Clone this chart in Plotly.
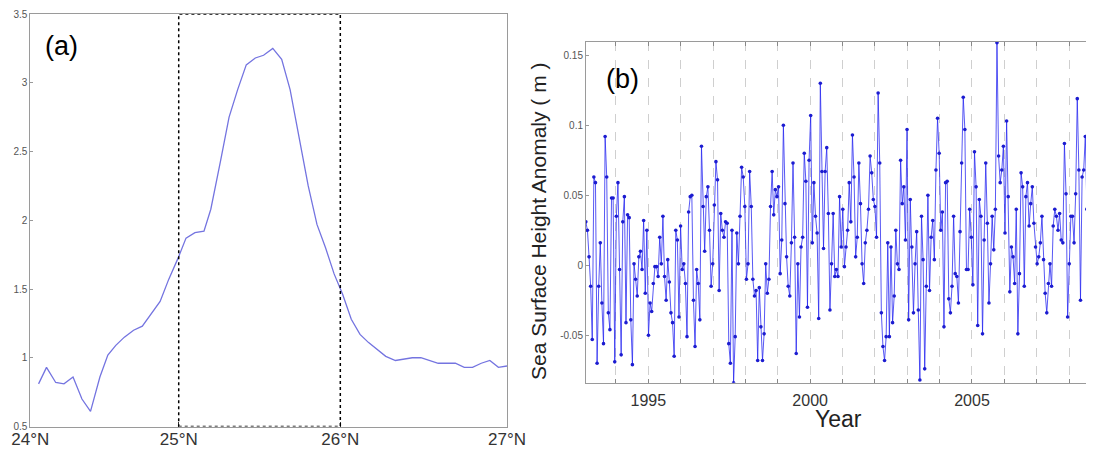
import numpy as np
import plotly.graph_objects as go

# ---------------- Panel (a) data ----------------
lat_pos = [24.052, 24.102, 24.160, 24.212, 24.269, 24.325, 24.379, 24.438, 24.488, 24.538,
           24.592, 24.650, 24.705, 24.763, 24.817, 24.871, 24.932, 24.980, 25.036, 25.093,
           25.136, 25.197, 25.251, 25.305, 25.359, 25.416, 25.468, 25.526, 25.582, 25.635,
           25.691, 25.749, 25.804, 25.858, 25.912, 25.966, 26.020, 26.075, 26.129, 26.185,
           26.237, 26.298, 26.350, 26.404, 26.458, 26.512, 26.567, 26.621, 26.675, 26.731,
           26.783, 26.838, 26.892, 26.946, 27.000]
profile_a = [0.81, 0.93, 0.82, 0.81, 0.86, 0.70, 0.61, 0.86, 1.02, 1.09,
             1.15, 1.20, 1.23, 1.32, 1.41, 1.57, 1.73, 1.87, 1.91, 1.92,
             2.08, 2.43, 2.75, 2.95, 3.13, 3.18, 3.20, 3.25, 3.17, 2.95,
             2.60, 2.25, 1.97, 1.80, 1.61, 1.46, 1.28, 1.17, 1.11, 1.06,
             1.01, 0.98, 0.99, 1.00, 1.00, 0.98, 0.96, 0.96, 0.96, 0.93,
             0.93, 0.96, 0.98, 0.93, 0.94]
lat_tickvals = [24.0, 24.934, 25.951, 27.0]
lat_ticktext = ["24°N", "25°N", "26°N", "27°N"]
box_lat = [24.934, 25.951]
a_yticks = [0.5, 1, 1.5, 2, 2.5, 3, 3.5]
a_yticktext = ["0.5", "1", "1.5", "2", "2.5", "3", "3.5"]

# ---------------- Panel (b) data ----------------
year_start, year_end = 1993.07, 2008.70
ssha = [
    0.031, 0.025, 0.006, -0.015, -0.053, 0.063, 0.059, -0.070, -0.015, 0.016,
    -0.027, -0.056, 0.092, 0.063, -0.034, -0.046, 0.048, 0.048, -0.069, 0.035,
    0.059, -0.003, -0.064, 0.031, 0.049, -0.041, 0.036, 0.034, -0.039, -0.071,
    0.001, -0.010, -0.022, 0.006, 0.010, -0.003, 0.032, -0.020, 0.025, -0.050,
    -0.027, -0.033, -0.013, -0.001, -0.001, -0.008, 0.020, 0.001, 0.035, -0.008,
    -0.025, 0.004, -0.012, -0.034, -0.041, -0.065, 0.025, 0.018, -0.037, 0.028,
    -0.003, 0.001, -0.013, -0.051, 0.038, 0.049, 0.050, -0.025, -0.058, -0.003,
    -0.013, -0.039, 0.085, 0.042, 0.010, 0.049, 0.056, 0.025, -0.015, 0.001,
    0.043, 0.074, 0.061, -0.018, 0.037, 0.025, 0.020, 0.031,
    0.030, -0.056, -0.070, 0.025, -0.084, -0.051, 0.023, 0.001, 0.035, 0.070,
    0.063, 0.042, -0.010, 0.001, 0.067, 0.042, -0.010, -0.022, -0.018, -0.068,
    -0.016, -0.044, -0.068, -0.049, 0.001, -0.020, -0.010, 0.042, 0.067, 0.036,
    0.054, 0.049, 0.056, -0.006, 0.018, 0.100, 0.044, 0.006, -0.015, -0.022,
    0.016, 0.073, 0.020, -0.063, 0.001, -0.037, 0.013, 0.020, 0.080, 0.060,
    -0.030, 0.075, 0.107, 0.016, 0.059, 0.035, 0.023, -0.038, 0.130, 0.067,
    0.012, 0.067, 0.084, 0.037, -0.032, 0.001, 0.037, -0.008, -0.003, -0.008,
    0.049, 0.013, 0.040, -0.001, 0.013, 0.025, 0.059, 0.031, 0.093, 0.063,
    0.006, 0.020, 0.073, 0.044, 0.001, -0.013, 0.016, 0.025, 0.040, 0.078,
    0.066, 0.047, 0.042, 0.020, 0.123, 0.073, -0.034, -0.058, -0.068, -0.051,
    0.016, -0.051, 0.013, -0.041, -0.022, 0.025, 0.001, -0.003, 0.075, 0.044,
    0.056, 0.018, 0.097, -0.039, 0.047, 0.013, -0.034, 0.001, 0.024, -0.032,
    -0.082, 0.035, 0.004, -0.074, -0.015, 0.050, -0.018, 0.020, 0.032, 0.004,
    0.068, 0.105, 0.080, 0.025, 0.038, -0.044, 0.059, 0.060, -0.024, -0.034,
    -0.015, 0.035, -0.006, -0.008, -0.027, 0.024, 0.073, 0.120, 0.097, -0.003,
    -0.003, 0.040, 0.020, -0.014, 0.081, 0.056, -0.043, 0.047, 0.035, -0.049,
    0.018, 0.073, 0.030, -0.027, 0.001, 0.035, 0.011, 0.040, 0.159, 0.078,
    0.059, 0.068, 0.085, 0.023, 0.103, 0.049, -0.019, 0.013, 0.006, -0.013,
    0.040, -0.049, -0.006, 0.066, 0.056, -0.015, 0.049, 0.059, 0.028, 0.044,
    0.056, 0.030, 0.013, 0.001, 0.006, 0.016, 0.035, 0.004, -0.020, -0.034,
    -0.013, 0.001, -0.015, 0.028, 0.040, 0.035, 0.025, 0.037, 0.018, 0.016,
    0.087, 0.051, -0.037, 0.001, 0.035, 0.035, 0.016, 0.051, 0.119, 0.068,
    -0.025, 0.063, 0.068, 0.092, 0.040, 0.078, 0.011, 0.073,
]
years = np.linspace(year_start, year_end, len(ssha))
year_ticks = list(range(1994, 2009))
year_labels = ["1995", "2000", "2005"]
b_yticks = [-0.05, 0, 0.05, 0.1, 0.15]
b_yticktext = ["-0.05", "0", "0.05", "0.1", "0.15"]

# page body has an 8px default margin -> lay out in screen pixels minus offset
OFF = 8
W, H = 1094 - OFF, 449 - OFF
FONT = "Liberation Sans, Arial, sans-serif"

fig = go.Figure()

fig.add_trace(go.Scatter(
    x=lat_pos, y=profile_a, mode="lines",
    line=dict(color="#7474e0", width=1.3),
    xaxis="x", yaxis="y", showlegend=False, hoverinfo="skip"))

fig.add_trace(go.Scatter(
    x=years, y=ssha, mode="lines+markers",
    line=dict(color="rgba(35,35,240,0.85)", width=0.9),
    marker=dict(color="#1c1cd0", size=3.6, symbol="circle"),
    xaxis="x2", yaxis="y2", showlegend=False, hoverinfo="skip"))

def px_x(p):
    return (p - OFF) / W

def px_y(p):
    return 1 - (p - OFF) / H

axis_line = "#9a9a9a"

fig.update_layout(
    width=W, height=H, autosize=False,
    margin=dict(l=0, r=0, t=0, b=0, pad=0),
    paper_bgcolor="white", plot_bgcolor="white",
    font=dict(family=FONT, color="#222"),
    xaxis=dict(
        domain=[px_x(30.3), px_x(507)], range=[24, 27], automargin=False,
        tickvals=lat_tickvals, ticktext=lat_ticktext,
        tickfont=dict(size=17, color="#333"),
        ticks="inside", ticklen=5, tickcolor="#333",
        showline=True, linecolor=axis_line, mirror=True,
        showgrid=False, zeroline=False, anchor="y", ticklabelstandoff=-3),
    yaxis=dict(
        domain=[px_y(426.5), px_y(14)], range=[0.5, 3.5], automargin=False,
        tickvals=a_yticks, ticktext=a_yticktext,
        tickfont=dict(size=10, color="#555"),
        ticks="inside", ticklen=3, tickcolor="#999",
        showline=True, linecolor=axis_line, mirror=True,
        showgrid=False, zeroline=False, anchor="x"),
    xaxis2=dict(
        domain=[px_x(586), 1.0], range=[1993.075, 2008.77], automargin=False,
        tickvals=year_ticks,
        ticktext=[str(y) if str(y) in year_labels else "" for y in year_ticks],
        tickfont=dict(size=16, color="#333"),
        ticks="inside", ticklen=4, tickcolor="#888",
        showline=True, linecolor=axis_line, mirror="ticks",
        showgrid=True, gridcolor="#cfcfcf", griddash="dash", gridwidth=1,
        zeroline=False, anchor="y2", ticklabelstandoff=3),
    yaxis2=dict(
        domain=[px_y(382.7), px_y(41.7)], range=[-0.0839, 0.1597], automargin=False,
        tickvals=b_yticks, ticktext=b_yticktext,
        tickfont=dict(size=10, color="#555"),
        ticks="inside", ticklen=3, tickcolor="#999",
        showline=True, linecolor=axis_line, mirror=True,
        showgrid=False, zeroline=False, anchor="x2"),
)

# dotted box between 25N and 26N
fig.add_shape(type="rect", xref="x", yref="y",
              x0=box_lat[0], x1=box_lat[1], y0=0.5, y1=3.5,
              line=dict(color="black", width=1.5, dash="dot"))

common = dict(xref="paper", yref="paper", showarrow=False,
              xanchor="center", yanchor="middle")
fig.add_annotation(text="(a)", x=px_x(61), y=px_y(46),
                   font=dict(size=27, color="black", family=FONT), **common)
fig.add_annotation(text="(b)", x=px_x(622), y=px_y(79),
                   font=dict(size=27, color="black", family=FONT), **common)
fig.add_annotation(text="Sea Surface Height Anomaly ( m )", x=px_x(538), y=px_y(222),
                   textangle=-90, font=dict(size=21, color="#222", family=FONT), **common)
fig.add_annotation(text="Year", x=px_x(838), y=px_y(419),
                   font=dict(size=23, color="#222", family=FONT), **common)

fig.write_html("out.html")
